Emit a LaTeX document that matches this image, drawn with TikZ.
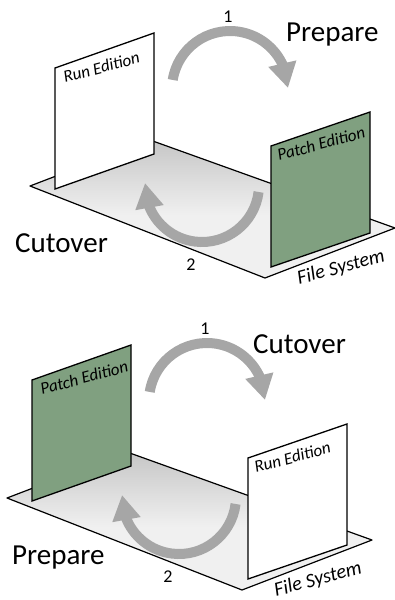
\documentclass[tikz,border=0pt]{standalone}
\usepackage{fontspec}
\setmainfont{Carlito}
\usetikzlibrary{arrows.meta,bending}

\definecolor{patchgreen}{HTML}{80A080}
\definecolor{arrowgray}{HTML}{A6A6A6}
\definecolor{floorlight}{HTML}{F0F0F0}
\definecolor{floordark}{HTML}{C6C6C6}

\tikzset{
    floor/.style={
        draw=black,
        line width=1.2pt,
        line join=round
    },
    panel/.style={
        draw=black,
        line width=1.3pt,
        line join=miter
    },
    runpanel/.style={panel, fill=white},
    patchpanel/.style={panel, fill=patchgreen},
    turn/.style={
        draw=arrowgray,
        line width=10pt,
        -{Triangle[length=25pt,width=27pt,flex]}
    },
    phase/.style={
        font=\fontsize{29}{29}\selectfont,
        inner sep=0pt,
        anchor=base west
    },
    num/.style={font=\fontsize{18}{18}\selectfont, inner sep=0pt},
    tag/.style={
        font=\fontsize{17}{17}\selectfont\itshape,
        inner sep=0pt,
        anchor=base west,
        rotate=15
    }
}

% one cycle: floor, two panels, the turning arrows and their numbers
% #1/#2 = style and title of the back panel, #3/#4 = the front panel
\newcommand\editioncycle[4]{%
    \coordinate (fl) at (30,186);
    \coordinate (fb) at (150,140);
    \coordinate (fr) at (395,228);
    \coordinate (ff) at (265,278);
    \fill[floorlight] (fl) -- (fb) -- (fr) -- (ff) -- cycle;
    \begin{scope}
        \clip (fl) -- (fb) -- (fr) -- (ff) -- cycle;
        \shade[top color=floordark, bottom color=floorlight]
            (30,140) rectangle (395,215);
    \end{scope}
    \draw[floor] (fl) -- (fb) -- (fr) -- (ff) -- cycle;
    % lower arrow lies on the floor
    \coordinate (lower) at (202,185);
    \draw[turn] ([shift={(7:57)}]lower) arc[start angle=7, end angle=182, radius=57];
    % panels
    \draw[#1] (55,68) -- (154,33) -- (154,154) -- (55,189) -- cycle;
    \node[tag] (backtitle) at (65,83) {#2};
    \draw[#3] (271,146) -- (370,112) -- (370,233) -- (271,267) -- cycle;
    \node[tag] (fronttitle) at (279,161) {#4};
    % upper arrow floats over the floor
    \coordinate (upper) at (230,89);
    \draw[turn] ([shift={(-171:58)}]upper) arc[start angle=-171, end angle=-1, radius=58];
    \node[num] (one) at (228,17) {1};
    \node[num] (two) at (191,265) {2};
    \node[tag, font=\fontsize{20}{20}\selectfont\itshape] (fs) at (299,284.5) {File System};
}

\begin{document}
\begin{tikzpicture}[x=1pt, y=-1pt]
\useasboundingbox (0,0) rectangle (395,600);

\begin{scope}[name prefix=top-]
    \editioncycle{runpanel}{Run Edition}{patchpanel}{Patch Edition}
    \node[phase] (prepare) at (286,41.7) {Prepare};
    \node[phase] (cutover) at (15,252) {Cutover};
\end{scope}

\begin{scope}[shift={(-23,312)}, name prefix=bot-]
    \editioncycle{patchpanel}{Patch Edition}{runpanel}{Run Edition}
    \node[phase] (cutover) at (276,41.5) {Cutover};
    \node[phase] (prepare) at (35,252) {Prepare};
\end{scope}

\end{tikzpicture}
\end{document}
